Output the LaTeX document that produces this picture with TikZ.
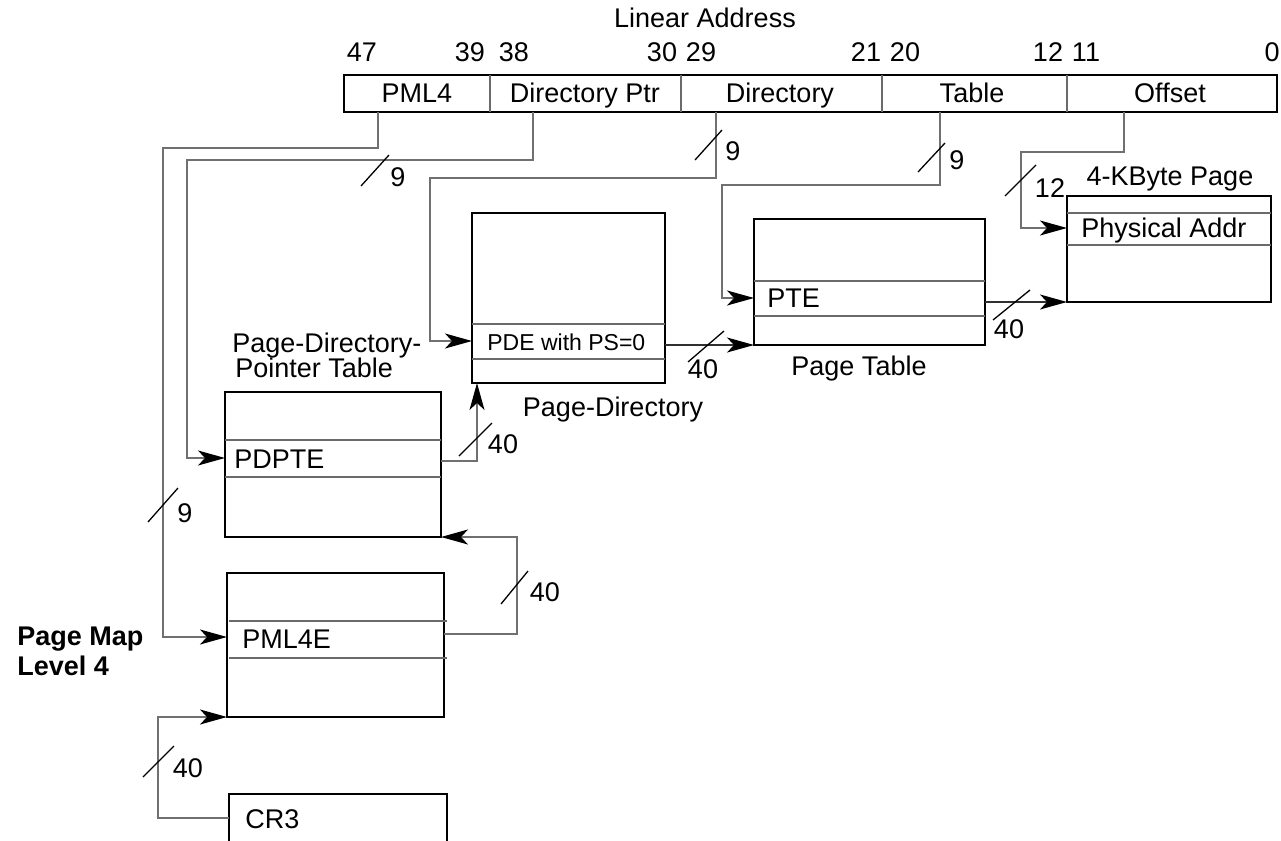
\documentclass[tikz,border=0pt]{standalone}
\usepackage{fontspec}
\setmainfont{Liberation Sans}
\usetikzlibrary{arrows.meta}
\definecolor{conngray}{HTML}{707070}
\definecolor{darkconn}{HTML}{303030}
\definecolor{rowgray}{HTML}{6A6A6A}
\begin{document}
\begin{tikzpicture}[x=0.5pt,y=-0.5pt,
  box/.style={draw=black, line width=1.45pt, inner sep=0pt, outer sep=0pt, anchor=north west},
  row/.style={draw=rowgray, line width=0.55pt},
  conn/.style={draw=conngray, line width=0.6pt},
  arr/.style={conn, -{Stealth[length=13.5pt,width=7.5pt,inset=3.5pt,color=black]}},
  darr/.style={arr, draw=darkconn},
  lbl/.style={font=\fontsize{13.5}{16}\selectfont, inner sep=0pt, text height=9.67pt, text depth=0pt},
  small/.style={font=\fontsize{11.5}{14}\selectfont, inner sep=0pt, text height=8.23pt, text depth=0pt},
  sl/.style={draw=black, line width=0.65pt},
]
\clip (0,0) rectangle (1281,841);

% ---------- linear address bar ----------
\node[lbl] (title) at (705,18) {Linear Address};
\node[box, minimum width=466.5pt, minimum height=18.5pt] (bar) at (344,75) {};
\foreach \x in {490,681,882,1067} \draw[row] (\x,75) -- (\x,112);
\node[lbl] (fpml4) at (417,93) {PML4};
\node[lbl] (fdp) at (585,93) {Directory Ptr};
\node[lbl] (fdir) at (780,93) {Directory};
\node[lbl] (ftab) at (972,93) {Table};
\node[lbl] (foff) at (1170,93) {Offset};
\node[lbl] (b47) at (362,52) {47};
\node[lbl] (b39) at (470,52) {39};
\node[lbl] (b38) at (514,52) {38};
\node[lbl] (b30) at (662,52) {30};
\node[lbl] (b29) at (701,52) {29};
\node[lbl] (b21) at (866,52) {21};
\node[lbl] (b20) at (905,52) {20};
\node[lbl] (b12) at (1048,52) {12};
\node[lbl] (b11) at (1086,52) {11};
\node[lbl] (b0) at (1272,52) {0};

% ---------- tables ----------
% Page directory
\node[box, minimum width=96.5pt, minimum height=85pt] (pd) at (472,213) {};
\draw[row] (472,324) -- (665,324);
\draw[row] (472,359) -- (665,359);
\node[small, anchor=west] (pde) at (487,342) {PDE with PS=0};
\node[lbl] (pdlbl) at (613,407) {Page-Directory};

% Page table
\node[box, minimum width=115.5pt, minimum height=63pt] (pt) at (754,219) {};
\draw[row] (754,281) -- (985,281);
\draw[row] (754,316) -- (985,316);
\node[lbl, anchor=west] (pte) at (767,298) {PTE};
\node[lbl] (ptlbl) at (859,366) {Page Table};

% 4-KByte page
\node[box, minimum width=102pt, minimum height=53pt] (pg) at (1067,196) {};
\draw[row] (1067,213) -- (1271,213);
\draw[row] (1067,245) -- (1271,245);
\node[lbl, anchor=west] (phys) at (1081,228) {Physical Addr};
\node[lbl] (pglbl) at (1170,176) {4-KByte Page};

% Page-directory-pointer table
\node[box, minimum width=108pt, minimum height=72.5pt] (pdpt) at (225,392) {};
\draw[row] (225,440) -- (441,440);
\draw[row] (225,477) -- (441,477);
\node[lbl, anchor=west] (pdpte) at (234,459) {PDPTE};
\node[lbl, anchor=base west] (pdptlblA) at (232,352) {Page-Directory-};
\node[lbl, anchor=base west] (pdptlblB) at (235,377) {Pointer Table};

% PML4 table
\node[box, minimum width=108.5pt, minimum height=72pt] (pml4) at (227,573) {};
\draw[row] (229,621) -- (447,621);
\draw[row] (229,658) -- (447,658);
\node[lbl, anchor=west] (pml4e) at (242,639) {PML4E};
\node[lbl, anchor=base west, font=\bfseries\fontsize{13.5}{16}\selectfont] (pmlblA) at (17,645) {Page Map};
\node[lbl, anchor=base west, font=\bfseries\fontsize{13.5}{16}\selectfont] (pmlblB) at (17,675) {Level 4};

% CR3
\node[box, minimum width=109pt, minimum height=30pt] (cr3) at (229,794) {};
\node[lbl, anchor=west] (cr3t) at (245,819) {CR3};

% ---------- ports ----------
\coordinate (oPML4) at (378,112);
\coordinate (oDP) at (533,112);
\coordinate (oDIR) at (716,112);
\coordinate (oTAB) at (940,112);
\coordinate (oOFF) at (1124,112);
\coordinate (iPML4) at (227,637);
\coordinate (iPDPT) at (225,458);
\coordinate (iPD) at (472,341);
\coordinate (iPT) at (754,298);
\coordinate (iPG) at (1067,228);

% ---------- connectors from linear address ----------
\draw[arr] (oPML4) |- (163,148) |- (iPML4);
\draw[arr] (oDP) |- (187,160) |- (iPDPT);
\draw[arr] (oDIR) |- (430,178) |- (iPD);
\draw[arr] (oTAB) |- (722,185) |- (iPT);
\draw[arr] (oOFF) |- (1021,152) |- (iPG);

% ---------- table-to-table connectors ----------
\coordinate (oPDE) at (665,345);
\coordinate (iPTb) at (754,345);
\draw[darr] (oPDE) -- (iPTb);
\coordinate (oPTE) at (985,302);
\coordinate (iPGb) at (1067,302);
\draw[darr] (oPTE) -- (iPGb);
\coordinate (oPDPTE) at (441,461);
\coordinate (iPDb) at (477,383);
\draw[arr] (oPDPTE) -| (iPDb);
\coordinate (oPML4E) at (444,634);
\coordinate (iPDPTb) at (441,537);
\draw[arr] (oPML4E) -| (517,537) -- (iPDPTb);
\coordinate (oCR3) at (229,818);
\coordinate (iPML4b) at (227,717);
\draw[arr] (oCR3) -| (158,717) -- (iPML4b);

% ---------- width slashes and labels ----------
\draw[sl] (361,186) -- (389,155);
\node[lbl] (w1) at (398,177) {9};
\draw[sl] (695,160) -- (722,130);
\node[lbl] (w2) at (733,151) {9};
\draw[sl] (918,172) -- (945,143);
\node[lbl] (w3) at (957,160) {9};
\draw[sl] (1005,196) -- (1036,165);
\node[lbl] (w4) at (1050,188) {12};
\draw[sl] (688,362) -- (724,331);
\node[lbl] (w5) at (703,369) {40};
\draw[sl] (993,320) -- (1030,290);
\node[lbl] (w6) at (1009,329) {40};
\draw[sl] (459,456) -- (492,423);
\node[lbl] (w7) at (503,444) {40};
\draw[sl] (501,604) -- (528,571);
\node[lbl] (w8) at (545,592) {40};
\draw[sl] (143,777) -- (174,746);
\node[lbl] (w9) at (188,768) {40};
\draw[sl] (148,522) -- (178,488);
\node[lbl] (w10) at (185,513) {9};
\end{tikzpicture}
\end{document}
